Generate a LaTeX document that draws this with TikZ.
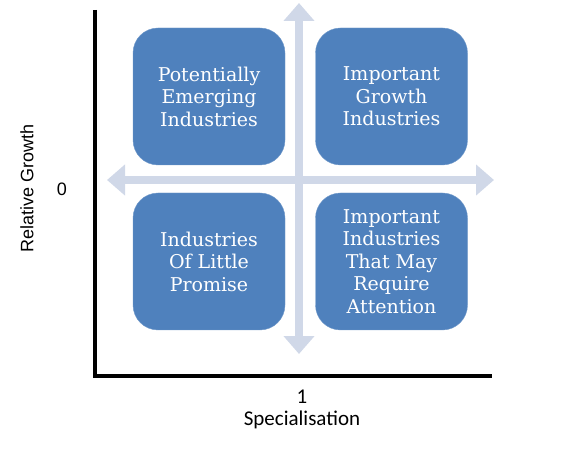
\documentclass[tikz,border=0pt]{standalone}
\usepackage{fontspec}
\setsansfont{Carlito}
\newfontfamily\boxfont{DejaVu Serif}
\newfontfamily\arialfont{Liberation Sans}
\usetikzlibrary{arrows.meta}
\definecolor{boxblue}{HTML}{4F81BD}
\definecolor{crossblue}{HTML}{D0D8E8}
\tikzset{
  quad/.style={fill=boxblue, draw=boxblue!80!white, rounded corners=25pt,
    minimum width=152pt, minimum height=137pt, text=white, align=center,
    font=\boxfont\fontsize{19}{22.5}\selectfont},
  crossarrow/.style={draw=crossblue, line width=8pt,
    {Triangle[width=30pt,length=18pt]}-{Triangle[width=30pt,length=18pt]}},
  ylab/.style={font=\arialfont\fontsize{18}{21}\selectfont},
  xlab/.style={font=\sffamily\fontsize{21}{24}\selectfont}
}
\begin{document}
\begin{tikzpicture}[x=1pt, y=1pt]
\useasboundingbox (0,0) rectangle (570,450);
% axes
\draw[line width=4pt] (95,440) -- (95,74) -- (492,74);
% cross
\coordinate (top) at (299,447);
\coordinate (bottom) at (299,96);
\coordinate (left) at (107,270);
\coordinate (right) at (494,270);
\draw[crossarrow] (left) -- (right);
\draw[crossarrow] (bottom) -- (top);
% quadrants
\node[quad] (emerging) at (209,353.5) {Potentially\\Emerging\\Industries};
\node[quad] (growth) at (391.5,353.5) {Important\\Growth\\Industries};
\node[quad] (promise) at (209,188.5) {Industries\\Of Little\\Promise};
\node[quad] (attention) at (391.5,188.5) {Important\\Industries\\That May\\Require\\Attention};
% labels
\node[ylab] (zero) at (62,261) {0};
\node[ylab, rotate=90] (ylabel) at (27,262) {Relative Growth};
\node[xlab] (one) at (302,53) {1};
\node[xlab] (xlabel) at (302,30) {Specialisation};
\end{tikzpicture}
\end{document}
